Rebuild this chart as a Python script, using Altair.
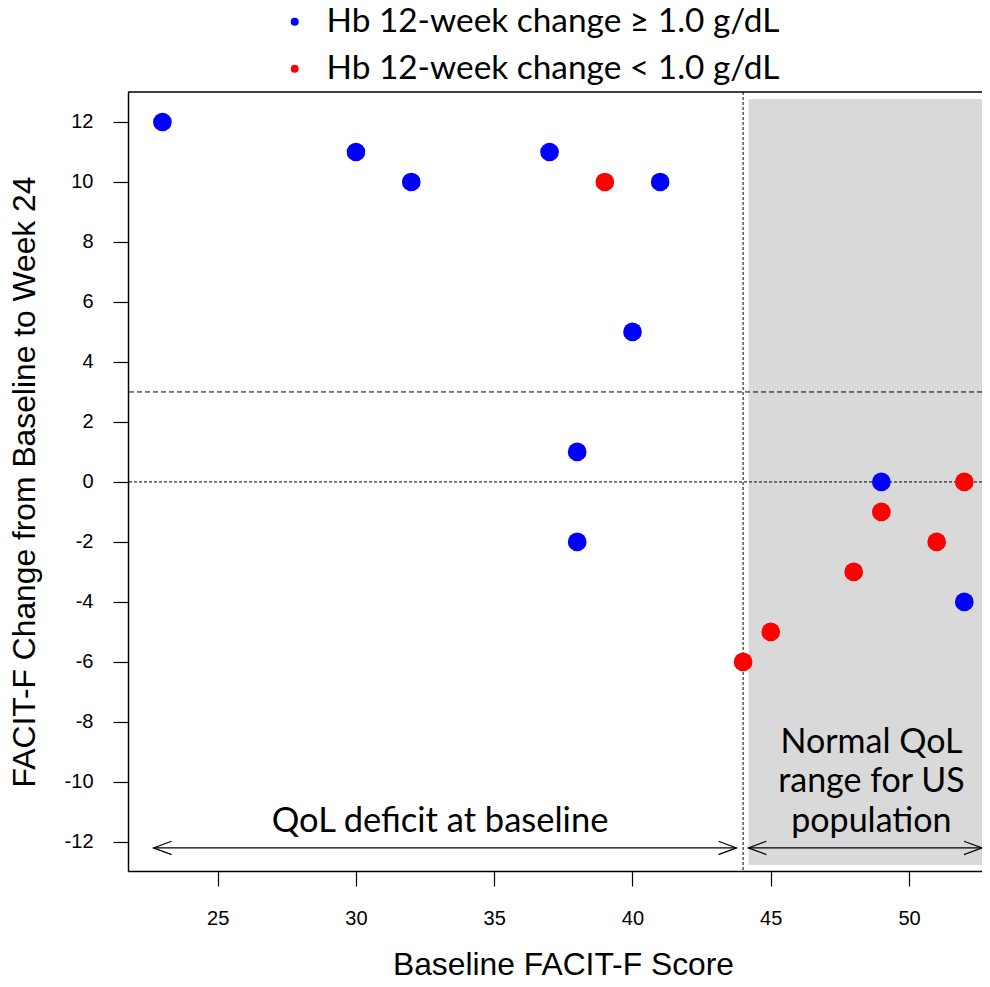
import altair as alt
import pandas as pd

# ---- data ----
baseline = [23, 30, 32, 37, 41, 40, 38, 38, 49, 52,
            39, 44, 45, 48, 49, 51, 52]
change = [12, 11, 10, 11, 10, 5, 1, -2, 0, -4,
          10, -6, -5, -3, -1, -2, 0]
HI = "Hb 12-week change \u2265 1.0 g/dL"
LO = "Hb 12-week change < 1.0 g/dL"
group = [HI] * 10 + [LO] * 7
group_names = [HI, LO]
group_colors = ["#0000ff", "#ff0000"]

x_ticks = [25, 30, 35, 40, 45, 50]
y_ticks = list(range(-12, 13, 2))
x_dom = [21.755, 52.64]
y_dom = [-12.97, 13.0]

ref_h = [3, 0]           # horizontal reference lines
ref_h_dash = [[5, 3], [3, 2]]
ref_v = 44               # vertical reference line
normal_x = [44.2, 52.64]
normal_y = [-12.77, 12.77]

arrow_y = -12.2
arrow_left = [22.68, 43.76]
arrow_right = [44.19, 52.64]

txt_left = "QoL deficit at baseline"
txt_left_pos = (33.04, -11.33)
txt_right = "Normal QoL\nrange for US\npopulation"
txt_right_pos = (48.64, -8.7)

FONT_AX = "Liberation Sans"
FONT_TX = "Lato"

df = pd.DataFrame({"baseline": baseline, "change": change, "group": group})

xs = alt.Scale(domain=x_dom, nice=False, zero=False)
ys = alt.Scale(domain=y_dom, nice=False, zero=False)

rect = alt.Chart(pd.DataFrame({"x": [normal_x[0]], "x2": [normal_x[1]],
                               "y": [normal_y[0]], "y2": [normal_y[1]]})).mark_rect(
    color="#d9d9d9").encode(
    x=alt.X("x:Q", scale=xs), x2="x2", y=alt.Y("y:Q", scale=ys), y2="y2")

hlines = []
for v, d in zip(ref_h, ref_h_dash):
    hlines.append(alt.Chart(pd.DataFrame({"y": [v]})).mark_rule(
        color="black", strokeWidth=1, strokeDash=d).encode(y=alt.Y("y:Q", scale=ys)))

vline = alt.Chart(pd.DataFrame({"x": [ref_v]})).mark_rule(
    color="black", strokeWidth=1, strokeDash=[3, 2]).encode(x=alt.X("x:Q", scale=xs))

top_border = alt.Chart(pd.DataFrame({"y": [y_dom[1]]})).mark_rule(
    color="black", strokeWidth=1.5).encode(y=alt.Y("y:Q", scale=ys))

arrows = alt.Chart(pd.DataFrame({"x": [arrow_left[0], arrow_right[0]],
                                 "x2": [arrow_left[1], arrow_right[1]],
                                 "y": [arrow_y, arrow_y]})).mark_rule(
    color="black", strokeWidth=1.2).encode(
    x=alt.X("x:Q", scale=xs), x2="x2", y=alt.Y("y:Q", scale=ys))

heads_l = alt.Chart(pd.DataFrame({"x": [arrow_left[0], arrow_right[0]],
                                  "y": [arrow_y, arrow_y]})).mark_point(
    shape="M2,-0.74 L0,0 L2,0.74", size=324, filled=False, color="black",
    strokeWidth=1.2, opacity=1).encode(
    x=alt.X("x:Q", scale=xs), y=alt.Y("y:Q", scale=ys))

heads_r = alt.Chart(pd.DataFrame({"x": [arrow_left[1], arrow_right[1]],
                                  "y": [arrow_y, arrow_y]})).mark_point(
    shape="M-2,-0.74 L0,0 L-2,0.74", size=324, filled=False, color="black",
    strokeWidth=1.2, opacity=1).encode(
    x=alt.X("x:Q", scale=xs), y=alt.Y("y:Q", scale=ys))

t_left = alt.Chart(pd.DataFrame({"x": [txt_left_pos[0]], "y": [txt_left_pos[1]],
                                 "t": [txt_left]})).mark_text(
    font=FONT_TX, fontSize=34.5, color="black", align="center", baseline="middle").encode(
    x=alt.X("x:Q", scale=xs), y=alt.Y("y:Q", scale=ys), text="t:N")

t_right = alt.Chart(pd.DataFrame({"x": [txt_right_pos[0]], "y": [txt_right_pos[1]],
                                  "t": [txt_right]})).mark_text(
    font=FONT_TX, fontSize=34, color="black", align="center", baseline="middle",
    lineBreak="\n", lineHeight=39.5).encode(
    x=alt.X("x:Q", scale=xs), y=alt.Y("y:Q", scale=ys), text="t:N")

hyphen_minus = "replace(toString(datum.value), '\u2212', '-')"

points = alt.Chart(df).mark_circle(size=350, opacity=1).encode(
    x=alt.X("baseline:Q", scale=xs,
            axis=alt.Axis(title="Baseline FACIT-F Score", values=x_ticks,
                          labelPadding=22, titleX=435, titleAlign="center",
                          titleY=103, titleBaseline="alphabetic")),
    y=alt.Y("change:Q", scale=ys,
            axis=alt.Axis(title="FACIT-F Change from Baseline to Week 24",
                          values=y_ticks, labelExpr=hyphen_minus,
                          titleX=-104, titleBaseline="middle")),
    color=alt.Color("group:N",
                    scale=alt.Scale(domain=group_names, range=group_colors),
                    legend=alt.Legend(title=None, orient="none", legendX=150, legendY=-87,
                                      symbolType="circle", symbolSize=64,
                                      symbolStrokeWidth=0, symbolOpacity=1,
                                      labelFont=FONT_TX, labelFontSize=33.4,
                                      labelColor="black", labelOffset=15,
                                      rowPadding=12, padding=0, labelLimit=800)),
)

chart = alt.layer(rect, *hlines, vline, top_border, arrows, heads_l, heads_r,
                  t_left, t_right, points).properties(
    width=854, height=779,
    autosize=alt.AutoSizeParams(type="none"),
    padding={"left": 120, "top": 84, "right": 0, "bottom": 105},
).configure_view(stroke=None).configure_axis(
    domainColor="black", domainWidth=1.5, tickColor="black", tickWidth=1.2,
    tickSize=15, grid=False, labelFont=FONT_AX, labelFontSize=20,
    labelColor="black", labelPadding=20, titleFont=FONT_AX, titleFontSize=31.8,
    titleFontWeight="normal", titleColor="black"
).configure_axisY(labelAngle=0)

chart.save("out.html", embed_options={"renderer": "svg", "actions": False})
